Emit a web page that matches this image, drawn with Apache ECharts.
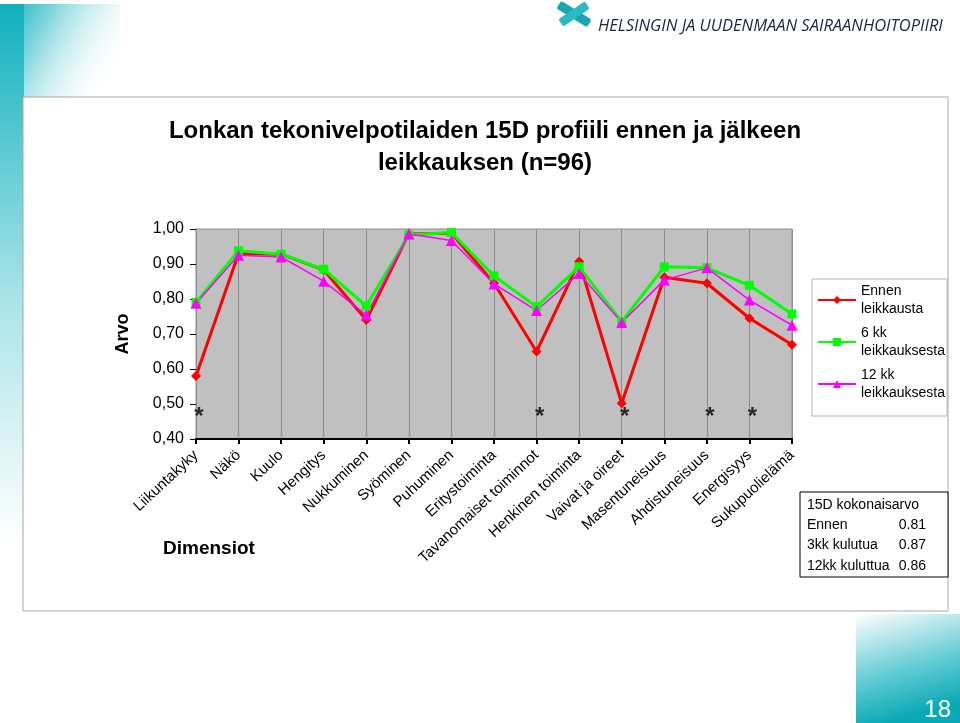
<!DOCTYPE html>
<html><head><meta charset="utf-8">
<script src="https://cdn.jsdelivr.net/npm/echarts/dist/echarts.min.js"></script>
<style>html,body{margin:0;padding:0;background:#fff}#c{width:960px;height:723px}</style>
</head><body><div id="c"></div>
<script>
const categories = ['Liikuntakyky','Näkö','Kuulo','Hengitys','Nukkuminen','Syöminen','Puhuminen','Eritystoiminta','Tavanomaiset toiminnot','Henkinen toiminta','Vaivat ja oireet','Masentuneisuus','Ahdistuneisuus','Energisyys','Sukupuolielämä'];
const ennen = [0.58,0.93,0.928,0.883,0.74,0.986,0.988,0.845,0.65,0.907,0.502,0.862,0.845,0.745,0.669];
const kk6   = [0.79,0.938,0.928,0.885,0.78,0.983,0.99,0.866,0.778,0.892,0.735,0.892,0.889,0.839,0.757];
const kk12  = [0.788,0.925,0.92,0.851,0.754,0.986,0.967,0.843,0.767,0.873,0.733,0.854,0.889,0.797,0.725];
const significance = ['*','','','','','','','','*','','*','','*','*',''];
const seriesNames = ['Ennen leikkausta','6 kk leikkauksesta','12 kk leikkauksesta'];
const yMin = 0.4, yMax = 1.0, yStep = 0.1;
const titleLines = ['Lonkan tekonivelpotilaiden 15D profiili ennen ja jälkeen','leikkauksen (n=96)'];
const yName = 'Arvo';
const xName = 'Dimensiot';
const summaryTitle = '15D kokonaisarvo';
const summaryLabels = ['Ennen','3kk kulutua','12kk kuluttua'];
const summaryValues = ['0.81','0.87','0.86'];
const orgName = 'HELSINGIN JA UUDENMAAN SAIRAANHOITOPIIRI';
const pageNumber = '18';

const F = 'Arial, "Liberation Sans", sans-serif';
const teal = '#10b0bd';
const chart = echarts.init(document.getElementById('c'), null, {renderer:'canvas'});

const sigData = [];
significance.forEach((s,i)=>{ if(s) sigData.push({value:[i, yMin], label:{formatter:s}}); });

const graphic = [
  {type:'rect', z:-10, shape:{x:0,y:4,width:120,height:96}, style:{fill:new echarts.graphic.LinearGradient(0,0,1,0.7,[{offset:0,color:teal},{offset:0.35,color:'#7fd6dd'},{offset:1,color:'rgba(255,255,255,0)'}])}},
  {type:'rect', z:-10, shape:{x:0,y:4,width:24,height:719}, style:{fill:new echarts.graphic.LinearGradient(0,0,0,1,[{offset:0,color:teal},{offset:0.4,color:'#a6e3e8'},{offset:0.75,color:'#ffffff'},{offset:1,color:'#ffffff'}])}},
  {type:'rect', z:-10, shape:{x:856,y:614,width:104,height:109}, style:{fill:new echarts.graphic.LinearGradient(0,0,0.3,1,[{offset:0,color:'#ffffff'},{offset:0.6,color:'#5fcbd3'},{offset:1,color:'#0aa9b6'}])}},
  {type:'rect', z:-5, shape:{x:23,y:97,width:925,height:514}, style:{fill:'#ffffff', stroke:'#a8a8a8', lineWidth:1}},
  {type:'rect', z:5, x:574, y:14, rotation:-0.55, shape:{x:-18,y:-4.5,width:36,height:9,r:2}, style:{fill:'#1aa6ae'}},
  {type:'rect', z:6, x:574, y:14, rotation:0.6, shape:{x:-16,y:-4.5,width:32,height:9,r:2}, style:{fill:'#2bbac2'}},
  {type:'text', z:5, x:598, y:26, style:{text:orgName, font:'italic 16.5px "Open Sans", sans-serif', fill:'#1c2541', verticalAlign:'middle'}},
  {type:'text', z:5, x:485, y:131, style:{text:titleLines[0], font:'bold 24px '+F, fill:'#000', textAlign:'center', verticalAlign:'middle'}},
  {type:'text', z:5, x:485, y:163, style:{text:titleLines[1], font:'bold 24px '+F, fill:'#000', textAlign:'center', verticalAlign:'middle'}},
  {type:'text', z:5, x:163, y:549, style:{text:xName, font:'bold 19px '+F, fill:'#000', verticalAlign:'middle'}},
  {type:'rect', z:5, shape:{x:800,y:492,width:148,height:85}, style:{fill:'#fff', stroke:'#000', lineWidth:1}},
  {type:'text', z:6, x:807, y:505, style:{text:summaryTitle, font:'14px '+F, fill:'#000', verticalAlign:'middle'}},
  {type:'text', z:6, x:951, y:710, style:{text:pageNumber, font:'24px '+F, fill:'#ffffff', textAlign:'right', verticalAlign:'middle'}}
];
summaryLabels.forEach((l,i)=>{
  graphic.push({type:'text', z:6, x:807, y:525+i*20.5, style:{text:l, font:'14px '+F, fill:'#000', verticalAlign:'middle'}});
  graphic.push({type:'text', z:6, x:926, y:525+i*20.5, style:{text:summaryValues[i], font:'14px '+F, fill:'#000', textAlign:'right', verticalAlign:'middle'}});
});

const mk = (name, data, color, symbol, size, width) => ({
  name, type:'line', data, symbol, symbolSize:size, showSymbol:true,
  lineStyle:{color, width}, itemStyle:{color, borderWidth:0}, emphasis:{disabled:true}, animation:false, z:3
});

chart.setOption({
  animation:false,
  backgroundColor:'transparent',
  grid:{left:196, right:168, top:229, bottom:284, show:true, backgroundColor:'#c0c0c0', borderColor:'#8c8c8c', borderWidth:1, containLabel:false, outerBoundsMode:'none'},
  legend:{
    orient:'vertical', left:812, top:279, itemWidth:38, itemHeight:10, itemGap:6,
    padding:[3,2,14,5], backgroundColor:'#fff', borderColor:'#b4b4b4', borderWidth:1,
    data:seriesNames,
    formatter:n=>n.replace(' leikk','\nleikk'),
    textStyle:{fontFamily:F, fontSize:14, color:'#000', lineHeight:18, padding:[9,0,-9,0]},
    selectedMode:false
  },
  xAxis:{
    type:'category', data:categories, boundaryGap:false,
    axisLine:{lineStyle:{color:'#000', width:2}},
    axisTick:{show:true, length:5, lineStyle:{color:'#000', width:2}, alignWithLabel:true},
    axisLabel:{interval:0, rotate:43, margin:14, fontFamily:F, fontSize:15, color:'#000'},
    splitLine:{show:true, lineStyle:{color:'#8c8c8c', width:1}}
  },
  yAxis:{
    type:'value', min:yMin, max:yMax, interval:yStep,
    name:yName, nameLocation:'middle', nameRotate:90, nameGap:64,
    nameTextStyle:{fontFamily:F, fontSize:18, fontWeight:'bold', color:'#000'},
    axisLine:{show:true, lineStyle:{color:'#8c8c8c', width:1}},
    axisTick:{show:true, length:6, lineStyle:{color:'#000', width:1}},
    axisLabel:{fontFamily:F, fontSize:16, color:'#000', margin:12, formatter:v=>v.toFixed(2).replace('.',',')},
    splitLine:{show:false}
  },
  graphic,
  series:[
    mk(seriesNames[0], ennen, '#ff0000', 'diamond', 10, 3),
    mk(seriesNames[1], kk6, '#00ff00', 'rect', 9, 3),
    mk(seriesNames[2], kk12, '#ff00ff', 'triangle', 11, 1.5),
    {type:'scatter', data:sigData, symbolSize:1, itemStyle:{color:'rgba(0,0,0,0)'}, silent:true, z:4,
     label:{show:true, position:'inside', offset:[3,-22], fontFamily:F, fontSize:24, fontWeight:'bold', color:'#000'}}
  ]
});
</script></body></html>
